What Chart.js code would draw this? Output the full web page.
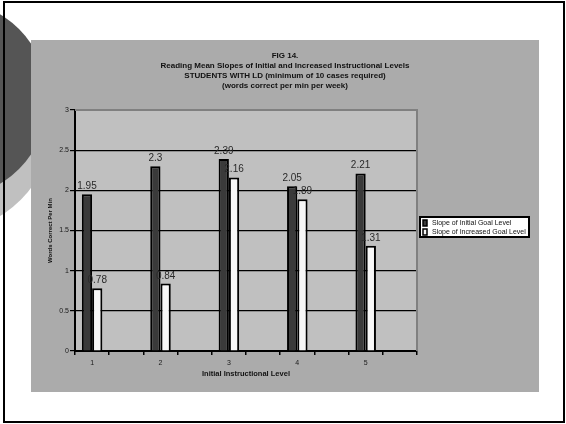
<!DOCTYPE html>
<html>
<head>
<meta charset="utf-8">
<title>FIG 14</title>
<script src="https://cdn.jsdelivr.net/npm/chart.js@4"></script>
<style>
  html, body { margin: 0; padding: 0; background: #fff; }
  body { position: relative; width: 566px; height: 424px; overflow: hidden; }
  .disc { position: absolute; border-radius: 50%; }
  #discLight { left: -155px; top: 24px; width: 206px; height: 206px; background: #c0c0c0; }
  #discDark { left: -150px; top: 0px; width: 198px; height: 198px; background: #555; }
  #frame { position: absolute; left: 3px; top: 1px; width: 562px; height: 422px; box-sizing: border-box; border: 2px solid #000; z-index: 3; }
  #panel { position: absolute; left: 31px; top: 40px; width: 508px; height: 352px; background: #ababab; z-index: 2; }
</style>
</head>
<body>
<div class="disc" id="discLight"></div>
<div class="disc" id="discDark"></div>
<div id="frame"></div>
<div id="panel"><canvas id="slopeChart" width="508" height="352"></canvas></div>

<script>
// reading slopes per instructional level
const levels = ['1', '2', '3', '4', '5'];
const initialSlope = [1.95, 2.3, 2.39, 2.05, 2.21];
const increasedSlope = [0.78, 0.84, 2.16, 1.89, 1.31];
const seriesNames = ['Slope of Initial Goal Level', 'Slope of Increased Goal Level'];
const titleLines = [
  'FIG 14.',
  'Reading Mean Slopes of Initial and Increased Instructional Levels',
  'STUDENTS WITH LD (minimum of 10 cases required)',
  '(words correct per min per week)'
];
const yTicks = [0, 0.5, 1, 1.5, 2, 2.5, 3];

// every level is followed by an empty slot on the category axis
const slotLabels = levels.flatMap(l => [l, '']);
const spread = arr => arr.flatMap(v => [v, null]);

Chart.defaults.font.family = '"Liberation Sans", Arial, sans-serif';
Chart.defaults.color = '#1a1a1a';

const fills = ['#3a3a3a', '#f7f7f7'];

// grey plot background + grey top/right edge
const plotBg = {
  id: 'plotBg',
  beforeDraw(chart) {
    const {ctx, chartArea: a} = chart;
    ctx.save();
    ctx.fillStyle = '#c0c0c0';
    ctx.fillRect(a.left, a.top, a.right - a.left, a.bottom - a.top);
    ctx.restore();
  },
  beforeDatasetsDraw(chart) {
    const {ctx, chartArea: a} = chart;
    ctx.save();
    ctx.strokeStyle = '#808080';
    ctx.lineWidth = 2;
    ctx.beginPath();
    ctx.moveTo(a.left, a.top);
    ctx.lineTo(a.right, a.top);
    ctx.lineTo(a.right, a.bottom);
    ctx.stroke();
    ctx.restore();
  }
};

// value printed above each bar
const barValues = {
  id: 'barValues',
  afterDatasetsDraw(chart) {
    const ctx = chart.ctx;
    ctx.save();
    ctx.font = '10px "Liberation Sans", Arial, sans-serif';
    ctx.fillStyle = '#2a2a2a';
    ctx.textAlign = 'center';
    ctx.textBaseline = 'alphabetic';
    chart.data.datasets.forEach((ds, i) => {
      chart.getDatasetMeta(i).data.forEach((bar, j) => {
        const v = ds.data[j];
        if (v == null) return;
        ctx.fillText(String(v), bar.x, bar.y - 5);
      });
    });
    ctx.restore();
  }
};

// boxed key to the right of the plot
const keyBox = {
  id: 'keyBox',
  afterDraw(chart) {
    const {ctx, chartArea: a} = chart;
    const x = a.right + 3, y = 177, w = 109, h = 20;
    ctx.save();
    ctx.fillStyle = '#fff';
    ctx.fillRect(x, y, w, h);
    ctx.strokeStyle = '#000';
    ctx.lineWidth = 2;
    ctx.strokeRect(x, y, w, h);
    ctx.font = '7px "Liberation Sans", Arial, sans-serif';
    ctx.textBaseline = 'middle';
    chart.data.datasets.forEach((ds, i) => {
      const cy = y + 6 + i * 9;
      ctx.fillStyle = ds.backgroundColor;
      ctx.fillRect(x + 3, cy - 3, 4, 6);
      ctx.lineWidth = 1.5;
      ctx.strokeRect(x + 3, cy - 3, 4, 6);
      ctx.fillStyle = '#111';
      ctx.fillText(ds.label, x + 12, cy);
    });
    ctx.restore();
  }
};

new Chart(document.getElementById('slopeChart'), {
  type: 'bar',
  data: {
    labels: slotLabels,
    datasets: [
      {label: seriesNames[0], data: spread(initialSlope), backgroundColor: fills[0], yAxisID: 'y'},
      {label: seriesNames[1], data: spread(increasedSlope), backgroundColor: fills[1], yAxisID: 'y'}
    ]
  },
  options: {
    responsive: false,
    animation: false,
    devicePixelRatio: 1,
    datasets: {
      bar: {
        borderColor: '#000',
        borderWidth: 2,
        categoryPercentage: 0.6,
        barPercentage: 1
      }
    },
    layout: {padding: 0},
    plugins: {
      legend: {display: false},
      tooltip: {enabled: false},
      title: {
        display: true,
        text: titleLines,
        color: '#111',
        font: {size: 8, weight: 'bold', lineHeight: 1.25},
        padding: {top: 11, bottom: 19}
      }
    },
    scales: {
      x: {
        offset: true,
        grid: {
          display: true,
          offset: true,
          drawOnChartArea: false,
          drawTicks: true,
          tickLength: 4,
          color: '#000',
          lineWidth: 1.5
        },
        border: {display: true, color: '#000', width: 2},
        ticks: {autoSkip: false, maxRotation: 0, padding: 4, font: {size: 7}},
        title: {
          display: true,
          text: 'Initial Instructional Level',
          color: '#111',
          font: {size: 7.5, weight: 'bold'},
          padding: {top: 4, bottom: 14}
        },
        afterFit(s) { s.height = 41; }
      },
      y: {
        min: 0,
        max: 3,
        afterBuildTicks(s) { s.ticks = yTicks.map(v => ({value: v})); },
        grid: {
          color: c => (c.tick && c.tick.value === 3 ? 'rgba(0,0,0,0)' : '#000'),
          tickColor: '#000',
          lineWidth: 1.2,
          tickLength: 5
        },
        border: {display: true, color: '#000', width: 2},
        ticks: {padding: 1, font: {size: 7}, callback: v => String(v)},
        title: {
          display: true,
          text: 'Words Correct Per Min',
          color: '#111',
          font: {size: 6, weight: 'bold'},
          padding: {top: 16}
        },
        afterFit(s) { s.width = 44; }
      },
      // room on the right for the key
      keySpace: {
        axis: 'y',
        type: 'linear',
        position: 'right',
        display: true,
        grid: {display: false},
        border: {display: false},
        ticks: {display: false},
        afterFit(s) { s.width = 122; }
      }
    }
  },
  plugins: [plotBg, barValues, keyBox]
});
</script>
</body>
</html>
